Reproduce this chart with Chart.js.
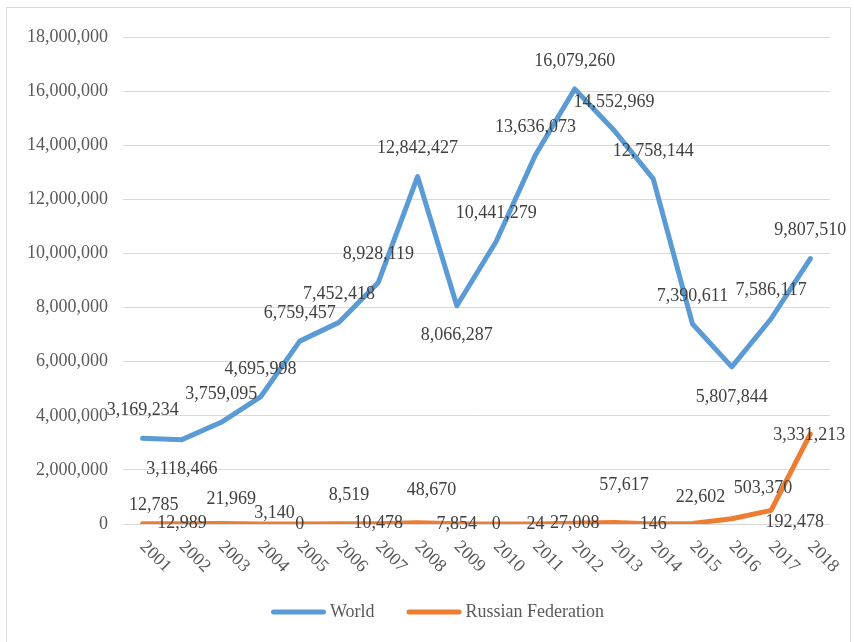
<!DOCTYPE html>
<html>
<head>
<meta charset="utf-8">
<script src="https://cdn.jsdelivr.net/npm/chart.js@4.4.1/dist/chart.umd.min.js"></script>
<style>
  body { margin: 0; background: #fff; }
  canvas { display: block; }
</style>
</head>
<body>
<canvas id="chart" width="854" height="642"></canvas>
<script>
// Dados do gráfico
const years = ['2001', '2002', '2003', '2004', '2005', '2006', '2007', '2008', '2009',
               '2010', '2011', '2012', '2013', '2014', '2015', '2016', '2017', '2018'];
const worldValues = [3169234, 3118466, 3759095, 4695998, 6759457, 7452418, 8928119, 12842427, 8066287,
                     10441279, 13636073, 16079260, 14552969, 12758144, 7390611, 5807844, 7586117, 9807510];
const russiaValues = [12785, 12989, 21969, 3140, 0, 8519, 10478, 48670, 7854,
                      0, 24, 27008, 57617, 146, 22602, 192478, 503370, 3331213];
const yMin = 0;
const yMax = 18000000;
const yStep = 2000000;

// Deslocamento dos rótulos de dados (px), separado dos dados
const A = [0, -28], B = [0, 30], C = [0, 0];
const worldLabelOffsets = [A, B, A, A, A, A, A, A, B, A, A, A, A, A, A, B, A, A];
const russiaLabelOffsets = [[11, -18], C, [10, -24], [14, -11], C, [10, -29], C, [14, -32], C,
                            C, C, C, [10, -37], C, [8, -26], [63, 3], [-8, -22], [-1, 1]];

const FONT = '"Liberation Serif", "Times New Roman", serif';
const fmt = v => v.toLocaleString('en-US');

// Moldura, rótulos do eixo x girados, rótulos de dados e legenda
const extras = {
    id: 'extras',
    beforeDraw(chart) {
        const ctx = chart.ctx;
        ctx.save();
        ctx.fillStyle = '#fff';
        ctx.fillRect(0, 0, chart.width, chart.height);
        ctx.strokeStyle = '#d9d9d9';
        ctx.lineWidth = 1;
        ctx.strokeRect(6.5, 7.5, 844, 660);
        ctx.restore();
    },
    afterDatasetsDraw(chart) {
        const ctx = chart.ctx;
        const offsets = [worldLabelOffsets, russiaLabelOffsets];
        ctx.save();
        ctx.font = '18px ' + FONT;
        ctx.fillStyle = '#404040';
        ctx.textAlign = 'center';
        ctx.textBaseline = 'middle';
        chart.data.datasets.forEach((ds, d) => {
            chart.getDatasetMeta(d).data.forEach((pt, i) => {
                const [dx, dy] = offsets[d][i];
                ctx.fillText(fmt(ds.data[i]), pt.x + dx, pt.y + dy);
            });
        });
        ctx.restore();
    },
    afterDraw(chart) {
        const ctx = chart.ctx;
        const x = chart.scales.x;
        ctx.save();
        ctx.font = '18px ' + FONT;
        ctx.fillStyle = '#595959';
        ctx.textAlign = 'left';
        ctx.textBaseline = 'middle';
        years.forEach((y, i) => {
            ctx.save();
            ctx.translate(x.getPixelForTick(i), chart.chartArea.bottom + 20);
            ctx.rotate(Math.PI / 4);
            ctx.fillText(y, 0, 0);
            ctx.restore();
        });

        // legenda
        const items = chart.data.datasets.map(ds => ({
            text: ds.label, color: ds.borderColor, w: 59 + ctx.measureText(ds.label).width
        }));
        const gap = 32;
        const total = items.reduce((s, it) => s + it.w, 0) + gap * (items.length - 1);
        let lx = 437.5 - total / 2;
        const ly = 612;
        ctx.lineCap = 'round';
        ctx.lineWidth = 5;
        items.forEach(it => {
            ctx.strokeStyle = it.color;
            ctx.beginPath();
            ctx.moveTo(lx + 2.5, ly);
            ctx.lineTo(lx + 52.5, ly);
            ctx.stroke();
            ctx.fillText(it.text, lx + 59, ly);
            lx += it.w + gap;
        });
        ctx.restore();
    }
};

new Chart(document.getElementById('chart'), {
    type: 'line',
    data: {
        labels: years,
        datasets: [
            {
                label: 'World',
                data: worldValues,
                borderColor: '#5b9bd5',
                backgroundColor: '#5b9bd5',
                borderWidth: 5,
                borderCapStyle: 'round',
                borderJoinStyle: 'round',
                pointRadius: 0,
                tension: 0
            },
            {
                label: 'Russian Federation',
                data: russiaValues,
                borderColor: '#ed7d31',
                backgroundColor: '#ed7d31',
                borderWidth: 5,
                borderCapStyle: 'round',
                borderJoinStyle: 'round',
                pointRadius: 0,
                tension: 0
            }
        ]
    },
    options: {
        responsive: false,
        animation: false,
        devicePixelRatio: 1,
        layout: { padding: { left: 0, right: 24, top: 37, bottom: 69 } },
        scales: {
            x: {
                offset: true,
                grid: { display: false },
                border: { display: false },
                ticks: { display: false },
                afterFit: s => { s.height = 49; }
            },
            y: {
                min: yMin,
                max: yMax,
                grid: { color: '#d9d9d9', lineWidth: 1, drawTicks: false },
                border: { display: false },
                ticks: {
                    stepSize: yStep,
                    padding: 15,
                    color: '#595959',
                    font: { family: FONT, size: 18 },
                    callback: v => fmt(v)
                },
                afterFit: s => { s.width = 123; }
            }
        },
        plugins: {
            tooltip: { enabled: false },
            legend: { display: false }
        }
    },
    plugins: [extras]
});
</script>
</body>
</html>
